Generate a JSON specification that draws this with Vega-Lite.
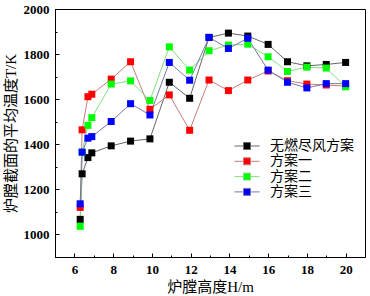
{
  "$schema": "https://vega.github.io/schema/vega-lite/v6.json",
  "width": 310,
  "height": 248,
  "autosize": "none",
  "padding": {"left": 55, "top": 9, "right": 5, "bottom": 39},
  "background": "white",
  "config": {
    "view": {"stroke": "black", "strokeWidth": 1},
    "axis": {
      "domainColor": "black",
      "tickColor": "black",
      "labelColor": "black",
      "titleColor": "black",
      "grid": false,
      "labelFont": "Liberation Serif",
      "labelFontSize": 13,
      "labelFontWeight": "bold",
      "titleFont": "Liberation Serif, Noto Sans CJK SC",
      "titleFontSize": 15,
      "titleFontWeight": "normal"
    }
  },
  "data": {
    "values": [
      {"s": "无燃尽风方案", "h": 6.3, "t": 1067},
      {"s": "无燃尽风方案", "h": 6.4, "t": 1269},
      {"s": "无燃尽风方案", "h": 6.7, "t": 1341},
      {"s": "无燃尽风方案", "h": 6.9, "t": 1362},
      {"s": "无燃尽风方案", "h": 7.9, "t": 1393},
      {"s": "无燃尽风方案", "h": 8.9, "t": 1414},
      {"s": "无燃尽风方案", "h": 9.9, "t": 1424},
      {"s": "无燃尽风方案", "h": 10.9, "t": 1675},
      {"s": "无燃尽风方案", "h": 11.95, "t": 1604},
      {"s": "无燃尽风方案", "h": 12.95, "t": 1874},
      {"s": "无燃尽风方案", "h": 13.95, "t": 1893},
      {"s": "无燃尽风方案", "h": 14.95, "t": 1880},
      {"s": "无燃尽风方案", "h": 16, "t": 1843},
      {"s": "无燃尽风方案", "h": 17, "t": 1766},
      {"s": "无燃尽风方案", "h": 18, "t": 1748},
      {"s": "无燃尽风方案", "h": 19, "t": 1754},
      {"s": "无燃尽风方案", "h": 20, "t": 1763},
      {"s": "方案一", "h": 6.3, "t": 1120},
      {"s": "方案一", "h": 6.4, "t": 1464},
      {"s": "方案一", "h": 6.7, "t": 1611},
      {"s": "方案一", "h": 6.9, "t": 1622},
      {"s": "方案一", "h": 7.9, "t": 1689},
      {"s": "方案一", "h": 8.9, "t": 1766},
      {"s": "方案一", "h": 9.9, "t": 1555},
      {"s": "方案一", "h": 10.9, "t": 1619},
      {"s": "方案一", "h": 11.95, "t": 1462},
      {"s": "方案一", "h": 12.95, "t": 1685},
      {"s": "方案一", "h": 13.95, "t": 1638},
      {"s": "方案一", "h": 14.95, "t": 1685},
      {"s": "方案一", "h": 16, "t": 1725},
      {"s": "方案一", "h": 17, "t": 1682},
      {"s": "方案一", "h": 18, "t": 1667},
      {"s": "方案一", "h": 19, "t": 1663},
      {"s": "方案一", "h": 20, "t": 1658},
      {"s": "方案二", "h": 6.3, "t": 1036},
      {"s": "方案二", "h": 6.4, "t": 1365},
      {"s": "方案二", "h": 6.7, "t": 1484},
      {"s": "方案二", "h": 6.9, "t": 1518},
      {"s": "方案二", "h": 7.9, "t": 1667},
      {"s": "方案二", "h": 8.9, "t": 1681},
      {"s": "方案二", "h": 9.9, "t": 1594},
      {"s": "方案二", "h": 10.9, "t": 1832},
      {"s": "方案二", "h": 11.95, "t": 1729},
      {"s": "方案二", "h": 12.95, "t": 1815},
      {"s": "方案二", "h": 13.95, "t": 1840},
      {"s": "方案二", "h": 14.95, "t": 1844},
      {"s": "方案二", "h": 16, "t": 1788},
      {"s": "方案二", "h": 17, "t": 1723},
      {"s": "方案二", "h": 18, "t": 1742},
      {"s": "方案二", "h": 19, "t": 1738},
      {"s": "方案二", "h": 20, "t": 1655},
      {"s": "方案三", "h": 6.3, "t": 1136},
      {"s": "方案三", "h": 6.4, "t": 1365},
      {"s": "方案三", "h": 6.7, "t": 1427},
      {"s": "方案三", "h": 6.9, "t": 1434},
      {"s": "方案三", "h": 7.9, "t": 1501},
      {"s": "方案三", "h": 8.9, "t": 1580},
      {"s": "方案三", "h": 9.9, "t": 1530},
      {"s": "方案三", "h": 10.9, "t": 1763},
      {"s": "方案三", "h": 11.95, "t": 1684},
      {"s": "方案三", "h": 12.95, "t": 1874},
      {"s": "方案三", "h": 13.95, "t": 1825},
      {"s": "方案三", "h": 14.95, "t": 1870},
      {"s": "方案三", "h": 16, "t": 1729},
      {"s": "方案三", "h": 17, "t": 1675},
      {"s": "方案三", "h": 18, "t": 1650},
      {"s": "方案三", "h": 19, "t": 1669},
      {"s": "方案三", "h": 20, "t": 1669}
    ]
  },
  "encoding": {
    "x": {
      "field": "h",
      "type": "quantitative",
      "scale": {"domain": [5, 21], "nice": false, "zero": false},
      "axis": {
        "title": "炉膛高度H/m",
        "values": [6, 7, 8, 9, 10, 11, 12, 13, 14, 15, 16, 17, 18, 19, 20],
        "labelExpr": "datum.value % 2 == 0 ? datum.label : ''",
        "tickSize": {"condition": {"test": "datum.value % 2 != 0", "value": -2}, "value": -4},
        "labelPadding": 10,
        "titlePadding": 3
      }
    },
    "y": {
      "field": "t",
      "type": "quantitative",
      "scale": {"domain": [900, 2000], "nice": false, "zero": false},
      "axis": {
        "title": "炉膛截面的平均温度T/K",
        "values": [1000, 1100, 1200, 1300, 1400, 1500, 1600, 1700, 1800, 1900, 2000],
        "labelExpr": "datum.value % 200 == 0 ? datum.label : ''",
        "format": "d",
        "tickSize": {"condition": {"test": "datum.value % 200 != 0", "value": -2}, "value": -4},
        "labelPadding": 10,
        "titlePadding": 5
      }
    }
  },
  "layer": [
    {
      "mark": {"type": "line", "strokeWidth": 1},
      "encoding": {
        "stroke": {
          "field": "s",
          "type": "nominal",
          "scale": {
            "domain": ["无燃尽风方案", "方案一", "方案二", "方案三"],
            "range": ["#666666", "#c87c7c", "#7fe07f", "#7777aa"]
          },
          "legend": {
            "orient": "none",
            "legendX": 185,
            "legendY": 130,
            "title": null,
            "symbolType": "M-3.6,0H-1M1,0H3.6M-1,-1H1V1H-1Z",
            "symbolSize": 49,
            "symbolStrokeWidth": 1,
            "labelFont": "Noto Sans CJK SC",
            "labelFontSize": 14,
            "labelColor": "black",
            "labelOffset": 16,
            "rowPadding": 1.3,
            "padding": 0
          }
        }
      }
    },
    {
      "mark": {"type": "point", "shape": "square", "filled": true, "size": 49, "opacity": 1, "strokeWidth": 0},
      "encoding": {
        "fill": {
          "field": "s",
          "type": "nominal",
          "scale": {
            "domain": ["无燃尽风方案", "方案一", "方案二", "方案三"],
            "range": ["#000000", "#ff0000", "#00ff00", "#0000ff"]
          },
          "legend": {
            "orient": "none",
            "legendX": 185,
            "legendY": 130,
            "title": null,
            "symbolType": "M-3.6,0H-1M1,0H3.6M-1,-1H1V1H-1Z",
            "symbolSize": 49,
            "symbolStrokeWidth": 1,
            "labelFont": "Noto Sans CJK SC",
            "labelFontSize": 14,
            "labelColor": "black",
            "labelOffset": 16,
            "rowPadding": 1.3,
            "padding": 0
          }
        }
      }
    }
  ]
}
